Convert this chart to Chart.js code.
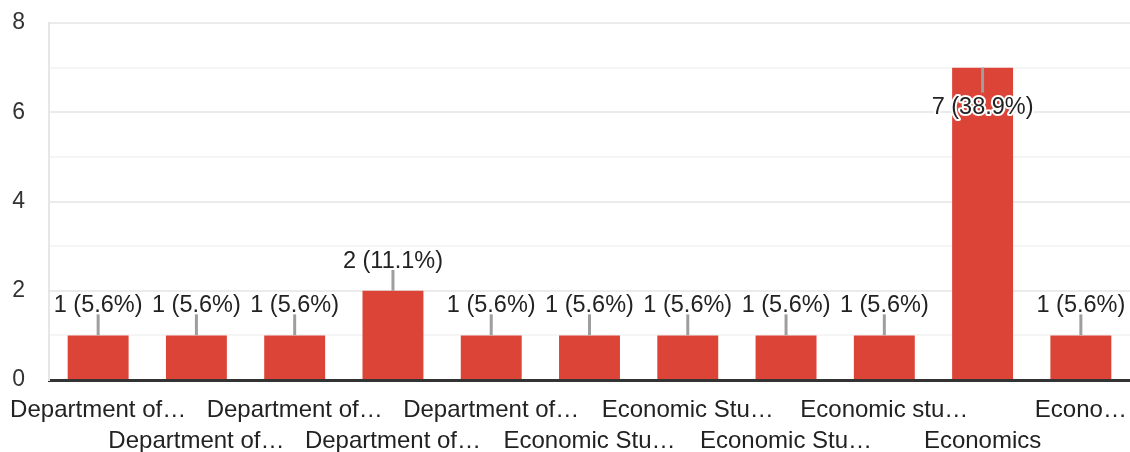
<!DOCTYPE html>
<html>
<head>
<meta charset="utf-8">
<script src="https://cdn.jsdelivr.net/npm/chart.js@4.4.1/dist/chart.umd.min.js"></script>
<style>
    html, body { margin: 0; padding: 0; background: #fff; }
    #wrap { width: 1130px; height: 452px; position: relative; }
</style>
</head>
<body>
<div id="wrap"><canvas id="responses-chart"></canvas></div>
<script>
// Categories as shown on the axis (truncated in the original)
const categories = [
    "Department of…",
    "Department of…",
    "Department of…",
    "Department of…",
    "Department of…",
    "Economic Stu…",
    "Economic Stu…",
    "Economic Stu…",
    "Economic stu…",
    "Economics",
    "Econo…",
];
const counts = [1, 1, 1, 2, 1, 1, 1, 1, 1, 7, 1];
const yTicks = [0, 2, 4, 6, 8];

const fontFamily = '"Liberation Sans", Arial, sans-serif';
const total = counts.reduce((a, b) => a + b, 0);

// Draws the "n (pct%)" labels with a little stem, like Google Forms does
const valueLabels = {
    id: "valueLabels",
    afterDatasetsDraw(chart) {
        const ctx = chart.ctx;
        const meta = chart.getDatasetMeta(0);
        const area = chart.chartArea;
        ctx.save();
        ctx.font = "23.5px " + fontFamily;
        ctx.textAlign = "center";
        ctx.textBaseline = "alphabetic";
        meta.data.forEach((bar, i) => {
            const v = counts[i];
            const text = v + " (" + (v / total * 100).toFixed(1) + "%)";
            const stem = 21;
            const inside = bar.y - stem - 30 < area.top;
            let stemEnd, baseline;
            if (inside) {
                stemEnd = bar.y + 25;
                baseline = bar.y + 46;
            } else {
                stemEnd = bar.y - stem;
                baseline = bar.y - stem - 2;
            }
            ctx.strokeStyle = "#9e9e9e";
            ctx.lineWidth = 3;
            ctx.beginPath();
            ctx.moveTo(bar.x, bar.y);
            ctx.lineTo(bar.x, stemEnd);
            ctx.stroke();

            ctx.lineJoin = "round";
            ctx.lineWidth = 4;
            ctx.strokeStyle = "#fff";
            ctx.strokeText(text, bar.x, baseline);
            ctx.fillStyle = "#222";
            ctx.fillText(text, bar.x, baseline);
        });
        ctx.restore();
    }
};

new Chart(document.getElementById("responses-chart"), {
    type: "bar",
    data: {
        labels: categories,
        datasets: [{
            data: counts,
            backgroundColor: "#db4437",
            categoryPercentage: 1,
            barPercentage: 0.62,
        }],
    },
    options: {
        responsive: true,
        maintainAspectRatio: false,
        animation: false,
        layout: { padding: { top: 23, right: 0, left: 0, bottom: 0 } },
        plugins: {
            legend: { display: false },
            tooltip: { enabled: false },
        },
        scales: {
            x: {
                z: 1,
                grid: { display: false, drawTicks: false },
                border: { display: true, color: "#333", width: 3 },
                ticks: {
                    autoSkip: false,
                    maxRotation: 0,
                    minRotation: 0,
                    padding: 15,
                    color: "#222",
                    font: { family: fontFamily, size: 24, lineHeight: 1.3 },
                    callback: (value, index) => index % 2 === 1 ? ["", categories[index]] : categories[index],
                },
                afterFit(scale) {
                    scale.height = 72;
                    scale.paddingLeft = 0;
                    scale.paddingRight = 0;
                },
            },
            y: {
                min: 0,
                max: 8,
                grid: {
                    drawTicks: false,
                    lineWidth: 2,
                    color: (c) => c.tick && c.tick.value % 2 === 0 ? "#ebebeb" : "#f5f5f5",
                },
                border: { display: true, color: "#e6e6e6", width: 2 },
                ticks: {
                    stepSize: 1,
                    padding: 24,
                    color: "#333",
                    font: { family: fontFamily, size: 23 },
                    callback: (value) => yTicks.includes(value) ? value : "",
                },
                afterFit(scale) {
                    scale.width = 49;
                    scale.paddingTop = 0;
                    scale.paddingBottom = 0;
                },
            },
        },
    },
    plugins: [valueLabels],
});
</script>
</body>
</html>
